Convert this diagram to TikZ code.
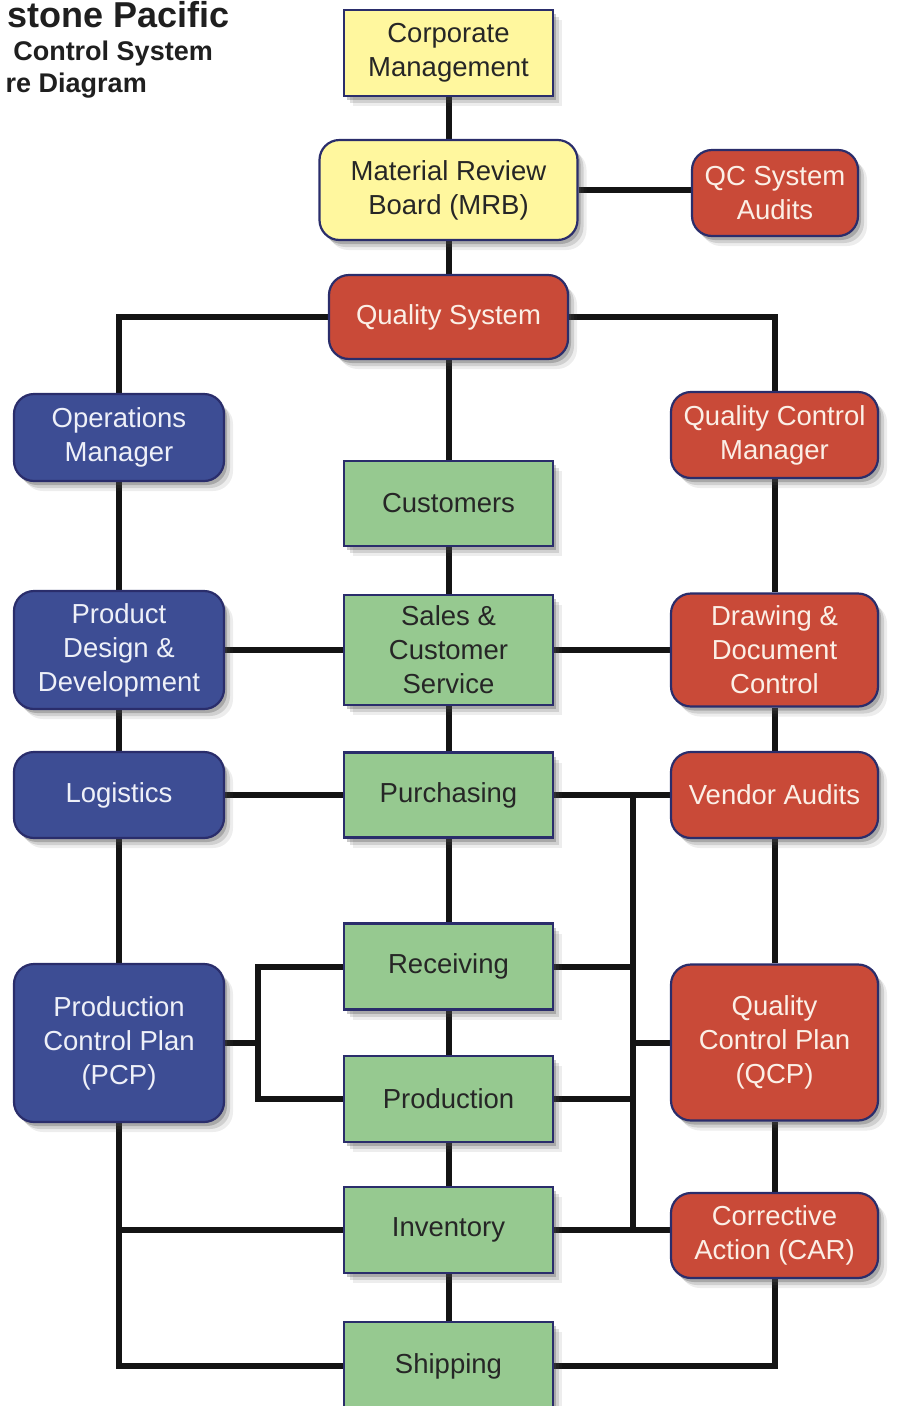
\documentclass[tikz,border=0pt]{standalone}
\usepackage{fontspec}
\setmainfont{Liberation Sans}
\usetikzlibrary{shadows,backgrounds}
\definecolor{ylw}{HTML}{FFF79E}
\definecolor{redb}{HTML}{C94A38}
\definecolor{blueb}{HTML}{3D4D94}
\definecolor{grn}{HTML}{96C990}
\definecolor{edgec}{HTML}{2A2D6B}
\definecolor{lighttxt}{HTML}{FBEFE6}
\definecolor{bluetxt}{HTML}{EEF0F8}
\tikzset{
  box/.style={draw=edgec, line width=2.2pt, align=center, inner sep=0pt,
    font=\fontsize{27.5}{34}\selectfont, text=black!85,
    drop shadow={shadow xshift=3pt, shadow yshift=-4pt, opacity=0.30, fill=black!70},
    drop shadow={shadow xshift=6pt, shadow yshift=-7pt, opacity=0.18, fill=black!70},
    drop shadow={shadow xshift=9pt, shadow yshift=-10pt, opacity=0.10, fill=black!70}},
  sq/.style={box, rectangle},
  rnd/.style={box, rounded corners=20pt},
  yl/.style={fill=ylw},
  rd/.style={fill=redb, text=lighttxt},
  bl/.style={fill=blueb, text=bluetxt},
  gr/.style={fill=grn},
  wire/.style={line width=6pt, draw=black!92},
  ttl/.style={font=\bfseries\fontsize{27}{27}\selectfont, text=black!88, inner sep=0pt}
}
\begin{document}
\begin{tikzpicture}[x=1pt,y=-1pt]
\useasboundingbox (0,0) rectangle (900,1406);
\clip (0,0) rectangle (900,1406);

% title (cropped as in the original)
\node[ttl, font=\bfseries\fontsize{36}{36}\selectfont, anchor=base east] (t1) at (230,27) {stone Pacific};
\node[ttl, anchor=base east] (t2) at (213,60) {Control System};
\node[ttl, anchor=base east] (t3) at (147,92) {re Diagram};

% centre column
\node[sq,yl,minimum width=209pt,minimum height=86pt] (cm) at (448.5,53) {Corporate\\Management};
\node[rnd,yl,minimum width=258pt,minimum height=100pt] (mrb) at (448.5,190) {Material Review\\Board (MRB)};
\node[rnd,rd,minimum width=166pt,minimum height=86pt] (qca) at (775,193) {QC System\\Audits};
\node[rnd,rd,minimum width=239pt,minimum height=84pt] (qs) at (448.5,317) {Quality System};
\node[sq,gr,minimum width=209pt,minimum height=85pt] (cust) at (448.5,503.5) {Customers};
\node[sq,gr,minimum width=209pt,minimum height=110pt] (sales) at (448.5,650) {Sales \&\\Customer\\Service};
\node[sq,gr,minimum width=209pt,minimum height=85pt] (pur) at (448.5,795) {Purchasing};
\node[sq,gr,minimum width=209pt,minimum height=86pt] (rec) at (448.5,966.5) {Receiving};
\node[sq,gr,minimum width=209pt,minimum height=86pt] (prod) at (448.5,1099) {Production};
\node[sq,gr,minimum width=209pt,minimum height=86pt] (inv) at (448.5,1230) {Inventory};
\node[sq,gr,minimum width=209pt,minimum height=88pt] (ship) at (448.5,1366) {Shipping};

% left column
\node[rnd,bl,minimum width=210pt,minimum height=87pt] (om) at (119,437.5) {Operations\\Manager};
\node[rnd,bl,minimum width=210pt,minimum height=118pt] (pdd) at (119,650) {Product\\Design \&\\Development};
\node[rnd,bl,minimum width=210pt,minimum height=86pt] (log) at (119,795) {Logistics};
\node[rnd,bl,minimum width=210pt,minimum height=158pt] (pcp) at (119,1043) {Production\\Control Plan\\(PCP)};

% right column
\node[rnd,rd,minimum width=207pt,minimum height=86pt] (qcm) at (774.5,435) {Quality Control\\Manager};
\node[rnd,rd,minimum width=207pt,minimum height=113pt] (ddc) at (774.5,650) {Drawing \&\\Document\\Control};
\node[rnd,rd,minimum width=207pt,minimum height=86pt] (va) at (774.5,795) {Vendor Audits};
\node[rnd,rd,minimum width=207pt,minimum height=156pt] (qcp) at (774.5,1042.5) {Quality\\Control Plan\\(QCP)};
\node[rnd,rd,minimum width=207pt,minimum height=85pt] (car) at (774.5,1235.5) {Corrective\\Action (CAR)};

% bus coordinates
\coordinate (rbt) at (633,795);
\coordinate (rbb) at (633,1230);
\coordinate (lb) at (258,1043);

\begin{pgfonlayer}{background}
  % centre spine
  \draw[wire] (cm) -- (mrb);
  \draw[wire] (mrb) -- (qs);
  \draw[wire] (qs) -- (cust);
  \draw[wire] (cust) -- (sales);
  \draw[wire] (sales) -- (pur);
  \draw[wire] (pur) -- (rec);
  \draw[wire] (rec) -- (prod);
  \draw[wire] (prod) -- (inv);
  \draw[wire] (inv) -- (ship);
  \draw[wire] (mrb.east) -- (mrb.east -| qca.west);
  % branches from quality system
  \draw[wire] (qs.west) -| (om.north);
  \draw[wire] (qs.east) -| (qcm.north);
  % left spine
  \draw[wire] (om) -- (pdd);
  \draw[wire] (pdd) -- (log);
  \draw[wire] (log) -- (pcp);
  \draw[wire] (pcp.south) |- (ship.west);
  \draw[wire] (pcp.south |- inv.west) -- (inv.west);
  % right spine
  \draw[wire] (qcm) -- (ddc);
  \draw[wire] (ddc) -- (va);
  \draw[wire] (va) -- (qcp);
  \draw[wire] (qcp) -- (car);
  \draw[wire] (car.south) |- (ship.east);
  % horizontal links
  \draw[wire] (pdd) -- (sales);
  \draw[wire] (sales) -- (ddc);
  \draw[wire] (log) -- (pur);
  \draw[wire] (pur) -- (va);
  \draw[wire] (inv.east) -- (inv.east -| car.west);
  % right bus
  \draw[wire] (rbt) -- (rbb);
  \draw[wire] (rec.east) -- (rec.east -| rbt);
  \draw[wire] (prod.east) -- (prod.east -| rbt);
  \draw[wire] (qcp.west) -- (qcp.west -| rbt);
  % left bus
  \draw[wire] (pcp.east) -- (lb);
  \draw[wire] (rec.west) -- (rec.west -| lb) -- (prod.west -| lb) -- (prod.west);
\end{pgfonlayer}
\end{tikzpicture}
\end{document}
